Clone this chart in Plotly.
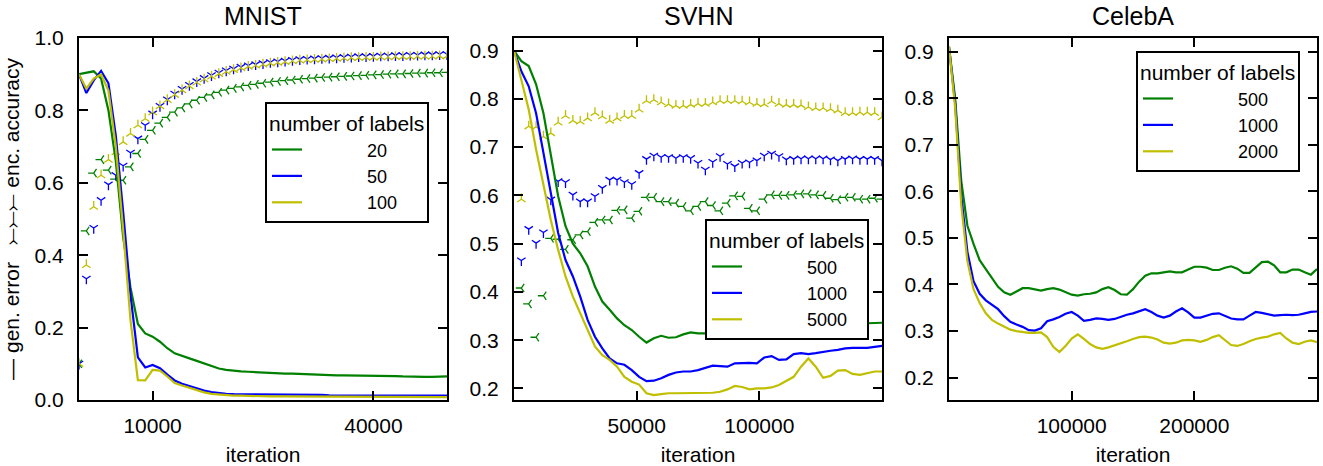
import plotly.graph_objects as go

# ---------------- data ----------------
mnist_iter = list(range(0, 50001, 1000))
mnist_err_20 = [0.900, 0.905, 0.908, 0.888, 0.800, 0.660, 0.450, 0.310, 0.210, 0.184,
                0.175, 0.161, 0.143, 0.129, 0.121, 0.115, 0.108, 0.101, 0.094, 0.087,
                0.083, 0.080, 0.079, 0.078, 0.077, 0.075, 0.074, 0.073, 0.073, 0.073,
                0.072, 0.071, 0.070, 0.069, 0.068, 0.068, 0.068, 0.068, 0.068, 0.068,
                0.067, 0.067, 0.066, 0.066, 0.065, 0.064, 0.064, 0.064, 0.064, 0.065, 0.065]
mnist_err_50 = [0.900, 0.848, 0.883, 0.909, 0.875, 0.730, 0.520, 0.290, 0.118, 0.090,
                0.097, 0.088, 0.070, 0.054, 0.045, 0.038, 0.031, 0.026, 0.022, 0.019,
                0.017, 0.016, 0.016, 0.015, 0.015, 0.015, 0.015, 0.015, 0.014, 0.014,
                0.014, 0.014, 0.014, 0.014, 0.013, 0.013, 0.013, 0.013, 0.013, 0.013,
                0.013, 0.013, 0.013, 0.012, 0.012, 0.012, 0.012, 0.012, 0.012, 0.012, 0.012]
mnist_err_100 = [0.900, 0.860, 0.888, 0.900, 0.855, 0.700, 0.470, 0.220, 0.055, 0.054,
                 0.083, 0.081, 0.065, 0.047, 0.040, 0.033, 0.027, 0.021, 0.017, 0.015,
                 0.013, 0.012, 0.012, 0.011, 0.011, 0.011, 0.010, 0.010, 0.010, 0.010,
                 0.010, 0.010, 0.009, 0.009, 0.009, 0.009, 0.009, 0.009, 0.009, 0.009,
                 0.008, 0.008, 0.008, 0.008, 0.008, 0.008, 0.008, 0.008, 0.008, 0.008, 0.008]
mnist_acc_20 = [0.100, 0.467, 0.627, 0.664, 0.635, 0.610, 0.607, 0.644, 0.681, 0.720,
                0.745, 0.765, 0.781, 0.795, 0.807, 0.818, 0.828, 0.836, 0.843, 0.850,
                0.856, 0.861, 0.865, 0.869, 0.872, 0.875, 0.878, 0.880, 0.882, 0.884,
                0.886, 0.888, 0.889, 0.891, 0.892, 0.893, 0.894, 0.895, 0.896, 0.897,
                0.898, 0.899, 0.900, 0.901, 0.901, 0.902, 0.903, 0.903, 0.904, 0.904, 0.905]
mnist_acc_50 = [0.100, 0.335, 0.475, 0.552, 0.595, 0.621, 0.647, 0.683, 0.722, 0.759,
                0.791, 0.812, 0.830, 0.846, 0.859, 0.870, 0.880, 0.889, 0.897, 0.904,
                0.910, 0.915, 0.920, 0.924, 0.927, 0.930, 0.933, 0.935, 0.937, 0.939,
                0.941, 0.942, 0.943, 0.944, 0.945, 0.946, 0.947, 0.948, 0.949, 0.949,
                0.950, 0.951, 0.951, 0.952, 0.952, 0.953, 0.953, 0.954, 0.954, 0.955, 0.955]
mnist_acc_100 = [0.100, 0.373, 0.534, 0.621, 0.664, 0.685, 0.713, 0.736, 0.759, 0.777,
                 0.795, 0.812, 0.829, 0.843, 0.856, 0.867, 0.877, 0.886, 0.894, 0.901,
                 0.907, 0.912, 0.917, 0.921, 0.924, 0.927, 0.930, 0.932, 0.934, 0.936,
                 0.938, 0.939, 0.940, 0.941, 0.942, 0.943, 0.944, 0.945, 0.945, 0.946,
                 0.946, 0.947, 0.947, 0.948, 0.948, 0.948, 0.949, 0.949, 0.949, 0.950, 0.950]

svhn_iter = list(range(0, 150001, 3000))
svhn_acc_iter = list(range(3000, 150001, 3000))
svhn_err_500 = [0.900, 0.878, 0.868, 0.830, 0.770, 0.680, 0.598, 0.536, 0.500, 0.480,
                0.453, 0.411, 0.380, 0.363, 0.345, 0.331, 0.321, 0.307, 0.295, 0.304,
                0.309, 0.305, 0.306, 0.312, 0.316, 0.314, 0.314, 0.318, 0.325, 0.327,
                0.328, 0.332, 0.336, 0.338, 0.332, 0.321, 0.321, 0.328, 0.333, 0.335,
                0.336, 0.333, 0.332, 0.333, 0.333, 0.333, 0.332, 0.333, 0.335, 0.336, 0.336]
svhn_err_1000 = [0.900, 0.857, 0.826, 0.770, 0.688, 0.605, 0.522, 0.466, 0.432, 0.390,
                 0.342, 0.307, 0.283, 0.262, 0.252, 0.249, 0.238, 0.224, 0.215, 0.216,
                 0.221, 0.228, 0.233, 0.235, 0.235, 0.238, 0.242, 0.247, 0.246, 0.245,
                 0.252, 0.253, 0.253, 0.252, 0.264, 0.267, 0.259, 0.260, 0.271, 0.273,
                 0.271, 0.273, 0.276, 0.278, 0.280, 0.283, 0.284, 0.284, 0.284, 0.286, 0.288]
svhn_err_5000 = [0.900, 0.840, 0.778, 0.695, 0.619, 0.549, 0.487, 0.432, 0.390, 0.356,
                 0.321, 0.287, 0.269, 0.259, 0.245, 0.224, 0.214, 0.208, 0.190, 0.186,
                 0.188, 0.190, 0.190, 0.190, 0.190, 0.190, 0.190, 0.191, 0.193, 0.198,
                 0.205, 0.203, 0.198, 0.200, 0.200, 0.202, 0.207, 0.215, 0.224, 0.245,
                 0.262, 0.245, 0.222, 0.226, 0.237, 0.238, 0.230, 0.228, 0.231, 0.235, 0.235]
svhn_acc_500 = [0.408, 0.375, 0.306, 0.392, 0.511, 0.509, 0.488, 0.508, 0.518, 0.525,
                0.544, 0.549, 0.549, 0.569, 0.570, 0.553, 0.567, 0.596, 0.596, 0.587,
                0.587, 0.584, 0.577, 0.568, 0.577, 0.587, 0.579, 0.568, 0.584, 0.599,
                0.598, 0.573, 0.568, 0.592, 0.601, 0.600, 0.600, 0.601, 0.603, 0.603,
                0.601, 0.600, 0.594, 0.591, 0.596, 0.596, 0.592, 0.592, 0.594, 0.592]
svhn_acc_1000 = [0.465, 0.530, 0.501, 0.523, 0.591, 0.629, 0.627, 0.601, 0.587, 0.587,
                 0.598, 0.615, 0.632, 0.632, 0.627, 0.623, 0.646, 0.675, 0.682, 0.679,
                 0.679, 0.677, 0.679, 0.677, 0.667, 0.653, 0.669, 0.681, 0.665, 0.660,
                 0.667, 0.668, 0.672, 0.682, 0.686, 0.681, 0.674, 0.675, 0.676, 0.676,
                 0.676, 0.676, 0.674, 0.672, 0.675, 0.676, 0.675, 0.675, 0.675, 0.672]
svhn_acc_5000 = [0.592, 0.743, 0.742, 0.722, 0.729, 0.751, 0.765, 0.755, 0.753, 0.760,
                 0.771, 0.764, 0.755, 0.760, 0.765, 0.765, 0.778, 0.796, 0.798, 0.793,
                 0.789, 0.786, 0.786, 0.788, 0.790, 0.790, 0.793, 0.796, 0.796, 0.796,
                 0.795, 0.793, 0.790, 0.789, 0.795, 0.790, 0.788, 0.788, 0.787, 0.783,
                 0.781, 0.781, 0.779, 0.776, 0.771, 0.771, 0.772, 0.772, 0.771, 0.762]

celeba_iter = list(range(0, 300001, 5000))
celeba_err_500 = [0.910, 0.800, 0.622, 0.526, 0.487, 0.452, 0.433, 0.415, 0.395, 0.383,
                  0.378, 0.385, 0.392, 0.392, 0.389, 0.387, 0.390, 0.392, 0.389, 0.383,
                  0.378, 0.376, 0.379, 0.380, 0.383, 0.390, 0.394, 0.388, 0.379, 0.378,
                  0.390, 0.406, 0.419, 0.424, 0.424, 0.426, 0.428, 0.426, 0.426, 0.432,
                  0.438, 0.438, 0.436, 0.431, 0.431, 0.436, 0.439, 0.434, 0.425, 0.425,
                  0.437, 0.448, 0.449, 0.441, 0.426, 0.426, 0.432, 0.432, 0.426, 0.421, 0.433]
celeba_err_1000 = [0.910, 0.790, 0.590, 0.470, 0.407, 0.380, 0.366, 0.356, 0.347, 0.332,
                   0.320, 0.314, 0.309, 0.302, 0.301, 0.306, 0.321, 0.325, 0.330, 0.337,
                   0.341, 0.333, 0.322, 0.324, 0.327, 0.326, 0.324, 0.326, 0.331, 0.335,
                   0.338, 0.343, 0.347, 0.341, 0.333, 0.329, 0.333, 0.342, 0.349, 0.340,
                   0.329, 0.329, 0.333, 0.337, 0.338, 0.333, 0.327, 0.325, 0.325, 0.333,
                   0.341, 0.339, 0.336, 0.333, 0.334, 0.335, 0.334, 0.335, 0.338, 0.341, 0.342]
celeba_err_2000 = [0.910, 0.780, 0.570, 0.450, 0.390, 0.360, 0.338, 0.324, 0.316, 0.310,
                   0.303, 0.300, 0.298, 0.296, 0.296, 0.297, 0.287, 0.266, 0.255, 0.268,
                   0.284, 0.293, 0.283, 0.272, 0.265, 0.262, 0.265, 0.269, 0.273, 0.278,
                   0.283, 0.287, 0.288, 0.286, 0.282, 0.275, 0.273, 0.275, 0.280, 0.281,
                   0.280, 0.277, 0.281, 0.287, 0.291, 0.280, 0.270, 0.268, 0.272, 0.278,
                   0.283, 0.286, 0.288, 0.293, 0.296, 0.284, 0.275, 0.272, 0.277, 0.280, 0.276]

panels = [
    dict(title="MNIST", labels=["20", "50", "100"], it=mnist_iter, acc_it=mnist_iter,
         err=[mnist_err_20, mnist_err_50, mnist_err_100],
         acc=[mnist_acc_20, mnist_acc_50, mnist_acc_100],
         xrange=[0, 50000], xticks=[10000, 40000],
         yrange=[0, 1.0], yticks=[0.0, 0.2, 0.4, 0.6, 0.8, 1.0],
         legend=dict(x=265, y=102)),
    dict(title="SVHN", labels=["500", "1000", "5000"], it=svhn_iter, acc_it=svhn_acc_iter,
         err=[svhn_err_500, svhn_err_1000, svhn_err_5000],
         acc=[svhn_acc_500, svhn_acc_1000, svhn_acc_5000],
         xrange=[0, 150000], xticks=[50000, 100000],
         yrange=[0.176, 0.926], yticks=[0.2, 0.3, 0.4, 0.5, 0.6, 0.7, 0.8, 0.9],
         legend=dict(x=705, y=219)),
    dict(title="CelebA", labels=["500", "1000", "2000"], it=celeba_iter, acc_it=None,
         err=[celeba_err_500, celeba_err_1000, celeba_err_2000],
         acc=None,
         xrange=[0, 300000], xticks=[100000, 200000],
         yrange=[0.152, 0.929], yticks=[0.2, 0.3, 0.4, 0.5, 0.6, 0.7, 0.8, 0.9],
         legend=dict(x=1136, y=51)),
]

# ---------------- style ----------------
W, H = 1323, 466
FONT = "Liberation Sans, Arial, Helvetica, sans-serif"
COLORS = ["#008000", "#0000ff", "#bfbf00"]
SYMBOLS = ["y-left", "y-down", "y-up"]
XDOM = [(79, 447), (514, 882), (949, 1317)]
YTOP, YBOT = 38, 400

fig = go.Figure()
layout = dict(
    width=W, height=H, margin=dict(l=0, r=0, t=0, b=0, pad=0, autoexpand=False),
    paper_bgcolor="white", plot_bgcolor="white",
    font=dict(family=FONT, color="black", size=20),
    annotations=[],
)

for i, p in enumerate(panels):
    n = "" if i == 0 else str(i + 1)
    xa, ya = "x" + n, "y" + n
    leg = "legend" + n
    for j in range(3):
        if p["acc"] is not None:
            fig.add_trace(go.Scatter(
                x=p["acc_it"], y=p["acc"][j], xaxis=xa, yaxis=ya, mode="markers",
                marker=dict(symbol=SYMBOLS[j], size=7,
                            line=dict(color=COLORS[j], width=1.3)),
                showlegend=False, hoverinfo="skip"))
    for j in range(3):
        fig.add_trace(go.Scatter(
            x=p["it"], y=p["err"][j], xaxis=xa, yaxis=ya, mode="lines",
            line=dict(color=COLORS[j], width=2.2),
            name="\u00a0" * 12 + p["labels"][j], legend=leg))

    x0, x1 = XDOM[i]
    axis_common = dict(showline=True, linecolor="black", linewidth=2, mirror="ticks",
                       ticks="inside", ticklen=9, tickwidth=1.5, tickcolor="black",
                       showgrid=False, zeroline=False, automargin=False,
                       tickfont=dict(size=21, family=FONT, color="black"))
    layout["xaxis" + n] = dict(axis_common, domain=[x0 / W, x1 / W], anchor=ya,
                               range=p["xrange"], tickvals=p["xticks"],
                               ticktext=[str(v) for v in p["xticks"]],
                               ticklabelstandoff=6,
                               title=dict(text="iteration", standoff=12,
                                          font=dict(size=21, family=FONT)))
    ydict = dict(axis_common, domain=[1 - YBOT / H, 1 - YTOP / H], anchor=xa,
                 range=p["yrange"], tickvals=p["yticks"],
                 ticktext=["%.1f" % v for v in p["yticks"]], ticklabelstandoff=9)
    if i == 0:
        ydict["title"] = dict(text="\u2014 gen. error \u00a0 \u291a\u291a\u291a enc. accuracy",
                              standoff=12, font=dict(size=21, family=FONT))
    layout["yaxis" + n] = ydict
    layout[leg] = dict(
        x=p["legend"]["x"] / W, y=1 - p["legend"]["y"] / H, xanchor="left", yanchor="top",
        bgcolor="white", bordercolor="black", borderwidth=2,
        font=dict(size=18, family=FONT, color="black"),
        title=dict(text="number of labels", font=dict(size=21, family=FONT)),
        tracegroupgap=0)
    layout["annotations"].append(dict(
        text=p["title"], x=(x0 + x1) / 2 / W, y=1 - 16 / H, xref="paper", yref="paper",
        xanchor="center", yanchor="middle", showarrow=False,
        font=dict(size=25, family=FONT, color="black")))

fig.update_layout(**layout)
fig.write_html("out.html", config={"displayModeBar": False},
               post_script="document.body.style.margin='0px';document.body.style.padding='0px';")
